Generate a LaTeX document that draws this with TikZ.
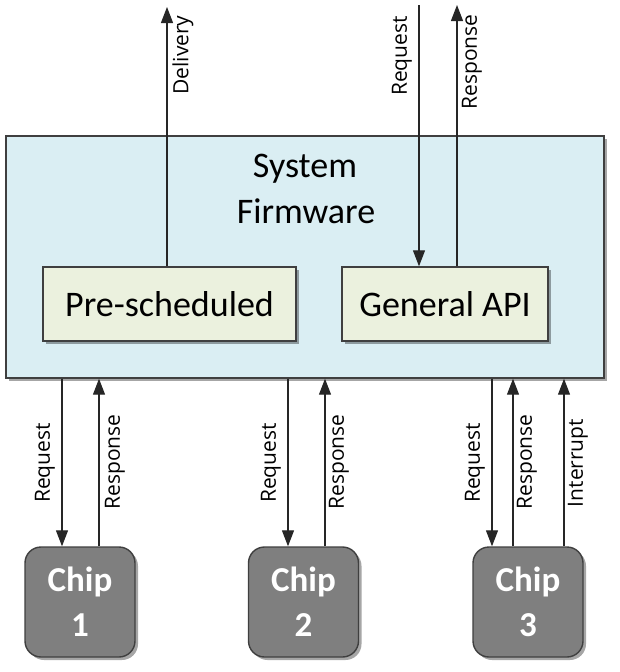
\documentclass[tikz,border=0pt]{standalone}
\usepackage{fontspec}
\setmainfont{Carlito}
\newfontfamily\lblfont{Open Sans}
\usetikzlibrary{arrows.meta,shadows}
\definecolor{sysfill}{HTML}{DAEEF3}
\definecolor{modfill}{HTML}{EBF1DE}
\definecolor{chipfill}{HTML}{7F7F7F}
\definecolor{edgec}{HTML}{3F3F3F}
\begin{document}
\begin{tikzpicture}[x=1pt,y=-1pt,
 shadowed/.style={drop shadow={shadow xshift=3pt,shadow yshift=-3pt,opacity=0.35,fill=black}},
 sysbox/.style={draw=edgec,line width=1.4pt,fill=sysfill,rectangle,inner sep=0pt,shadowed},
 modbox/.style={draw=edgec,line width=1.4pt,fill=modfill,inner sep=0pt,font=\fontsize{36}{43}\selectfont,shadowed},
 chipbox/.style={draw=edgec,line width=1.4pt,fill=chipfill,rounded corners=16pt,inner sep=0pt,minimum width=110pt,minimum height=110pt,align=center,text=white,font=\fontsize{35}{45}\selectfont\bfseries,shadowed},
 arr/.style={draw=black!85,line width=1.2pt,-{Triangle[length=16pt,width=12pt]}},
 lbl/.style={rotate=90,font=\lblfont\fontsize{21}{26}\selectfont,inner sep=0pt},
 maintext/.style={font=\fontsize{36}{43}\selectfont,inner sep=0pt,anchor=base}
]
\useasboundingbox (0,0) rectangle (620,672);
\node[sysbox,minimum width=598pt,minimum height=242pt] (sys) at (305,257) {};
\node[maintext] (sysA) at (305,177) {System};
\node[maintext] (sysB) at (306,223) {Firmware};
\node[modbox,minimum width=253pt,minimum height=74pt] (pre) at (169.5,304) {Pre-scheduled};
\node[modbox,minimum width=206pt,minimum height=74pt] (api) at (445,304) {General API};
\node[chipbox] (c1) at (80,602) {Chip\\1};
\node[chipbox] (c2) at (303.5,602) {Chip\\2};
\node[chipbox] (c3) at (528,602) {Chip\\3};
% top connectors
\coordinate (dTop) at (167,7);
\coordinate (rqTop) at (419,5);
\coordinate (rsTop) at (457,5);
\draw[arr] (pre.north -| dTop) -- (dTop);
\draw[arr] (rqTop) -- (api.north -| rqTop);
\draw[arr] (api.north -| rsTop) -- (rsTop);
% bottom connectors
\coordinate (xa) at (62,0);
\coordinate (xb) at (99,0);
\coordinate (xc) at (288,0);
\coordinate (xd) at (325,0);
\coordinate (xe) at (492,0);
\coordinate (xf) at (513,0);
\coordinate (xg) at (564,0);
\draw[arr] (sys.south -| xa) -- (c1.north -| xa);
\draw[arr] (c1.north -| xb) -- (sys.south -| xb);
\draw[arr] (sys.south -| xc) -- (c2.north -| xc);
\draw[arr] (c2.north -| xd) -- (sys.south -| xd);
\draw[arr] (sys.south -| xe) -- (c3.north -| xe);
\draw[arr] (c3.north -| xf) -- (sys.south -| xf);
\draw[arr] (c3.north -| xg) -- (sys.south -| xg);
% labels
\node[lbl] (lDel) at (183,55) {Delivery};
\node[lbl] (lRq) at (402,56) {Request};
\node[lbl] (lRs) at (472,62) {Response};
\node[lbl] (l1a) at (45,463) {Request};
\node[lbl] (l1b) at (115,462) {Response};
\node[lbl] (l2a) at (271,463) {Request};
\node[lbl] (l2b) at (339,462) {Response};
\node[lbl] (l3a) at (475,463) {Request};
\node[lbl] (l3b) at (527,462) {Response};
\node[lbl] (l3c) at (578,463) {Interrupt};
\end{tikzpicture}
\end{document}
